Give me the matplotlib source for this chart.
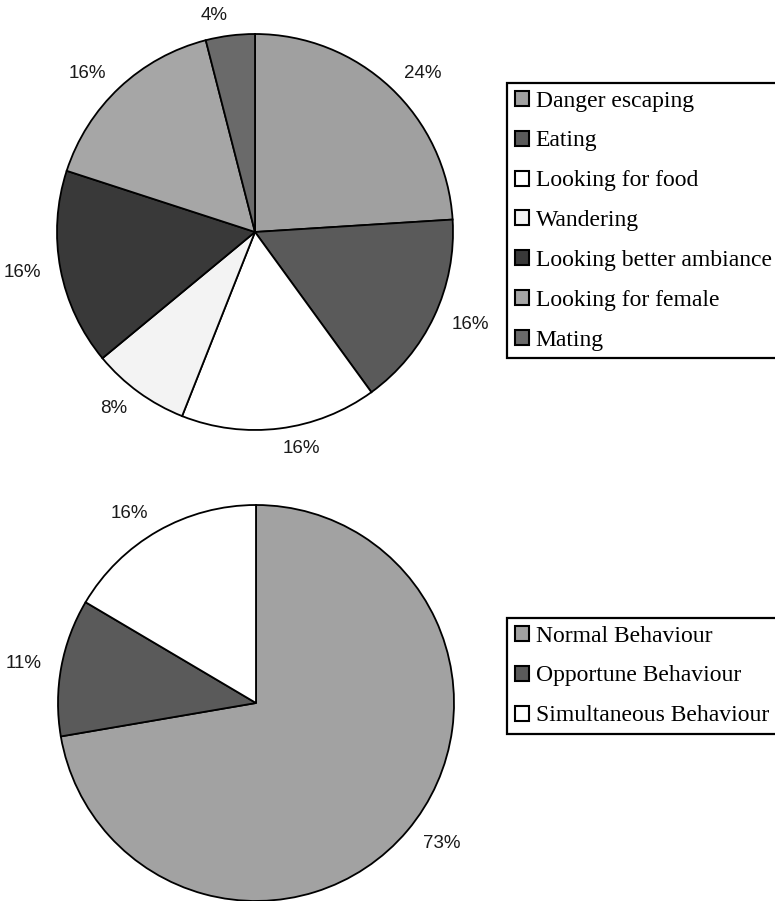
import matplotlib
matplotlib.use("Agg")
import matplotlib.pyplot as plt
from matplotlib.patches import Patch

# top chart: activity shares
activities = ["Danger escaping", "Eating", "Looking for food", "Wandering",
              "Looking better ambiance", "Looking for female", "Mating"]
activity_pct = [24, 16, 16, 8, 16, 16, 4]
activity_labels = ["24%", "16%", "16%", "8%", "16%", "16%", "4%"]
activity_colors = ["#a0a0a0", "#5a5a5a", "#ffffff", "#f3f3f3",
                   "#393939", "#a6a6a6", "#6a6a6a"]

# bottom chart: behaviour types (slice sizes)
behaviours = ["Normal Behaviour", "Opportune Behaviour", "Simultaneous Behaviour"]
behaviour_pct = [72.3, 11.2, 16.5]
behaviour_labels = ["73%", "11%", "16%"]
behaviour_colors = ["#a2a2a2", "#5a5a5a", "#ffffff"]

W, H = 775, 901
fig = plt.figure(figsize=(W / 100, H / 100), dpi=100)
lim = 1.3


def pie_axes(cx, cy, r):
    # place an axes so the pie of radius 1 sits at pixel (cx, cy) with radius r
    s = 2 * lim * r
    return fig.add_axes([(cx - s / 2) / W, (H - cy - s / 2) / H, s / W, s / H])


def draw_pie(ax, values, labels, colors, labeldist):
    ax.pie(values, colors=colors, startangle=90, counterclock=False,
           labels=labels, labeldistance=labeldist,
           wedgeprops=dict(edgecolor="black", linewidth=1.3),
           textprops=dict(family="Liberation Sans", fontsize=13.5, color="#1a1a1a"))
    ax.set_xlim(-lim, lim)
    ax.set_ylim(-lim, lim)
    ax.set_aspect("equal")
    ax.axis("off")


ax1 = pie_axes(255, 232, 198)
draw_pie(ax1, activity_pct, activity_labels, activity_colors, 1.1)

ax2 = pie_axes(256, 703, 198)
draw_pie(ax2, behaviour_pct, behaviour_labels, behaviour_colors, 1.1)


def legend_box(names, colors, x, y):
    handles = [Patch(facecolor=c, edgecolor="black", linewidth=1.5) for c in colors]
    leg = fig.legend(handles, names, loc="upper left", bbox_to_anchor=(x / W, 1 - y / H),
                     prop=dict(family="Liberation Serif", size=17),
                     handlelength=0.6, handleheight=0.6, handletextpad=0.3,
                     labelspacing=0.8, borderpad=0.32, borderaxespad=0,
                     fancybox=False, framealpha=1, edgecolor="black")
    leg.get_frame().set_linewidth(1.6)
    return leg


legend_box(activities, activity_colors, 507, 83)
legend_box(behaviours, behaviour_colors, 507, 618)

fig.savefig("out.png", dpi=100, facecolor="white")
